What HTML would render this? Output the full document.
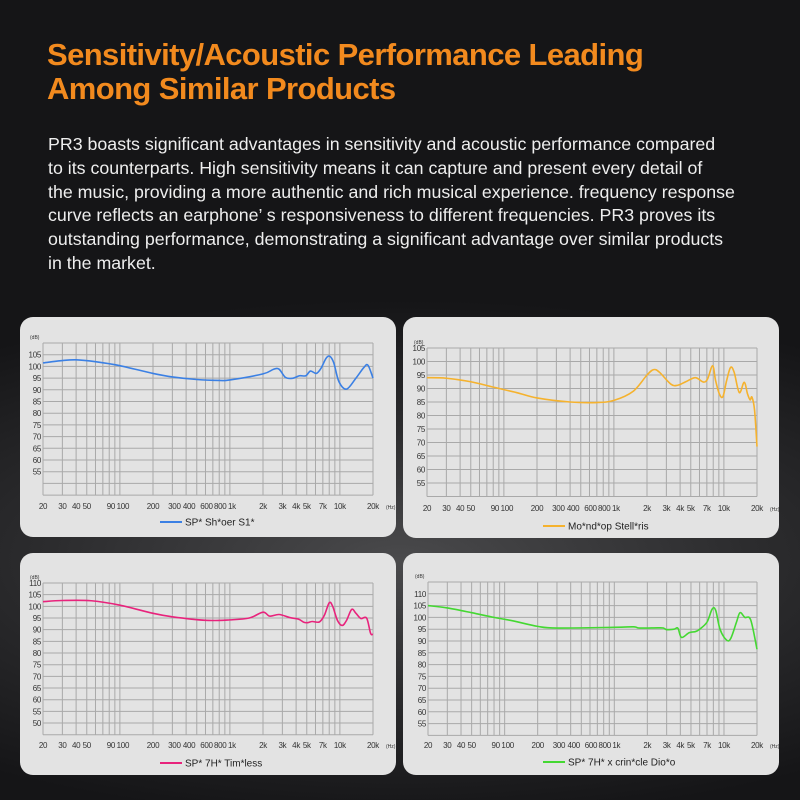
<!DOCTYPE html>
<html><head><meta charset="utf-8"><style>
html,body{margin:0;padding:0}
body{width:800px;height:800px;overflow:hidden;position:relative;
background:radial-gradient(ellipse 700px 260px at 400px 560px,#4a4a4c 0%,#2c2c2e 50%,#151517 100%),#111;
font-family:"Liberation Sans",sans-serif}
.title{position:absolute;left:47px;top:38px;color:#f28a1e;font-weight:bold;font-size:31px;line-height:34px;letter-spacing:-0.6px}
.body{position:absolute;left:48px;top:133px;width:740px;color:#eee;font-size:17.8px;line-height:23.8px;letter-spacing:0px}
svg{position:absolute;left:0;top:0}
</style></head><body>
<div class="title">Sensitivity/Acoustic Performance Leading<br>Among Similar Products</div>
<div class="body">PR3 boasts significant advantages in sensitivity and acoustic performance compared<br>to its counterparts. High sensitivity means it can capture and present every detail of<br>the music, providing a more authentic and rich musical experience. frequency response<br>curve reflects an earphone’ s responsiveness to different frequencies. PR3 proves its<br>outstanding performance, demonstrating a significant advantage over similar products<br>in the market.</div>
<svg id="s" width="800" height="800" xmlns="http://www.w3.org/2000/svg"></svg>
<script>
const S=document.getElementById('s');let h='';
const freqs=[20,30,40,50,60,70,80,90,100,200,300,400,500,600,700,800,900,1000,2000,3000,4000,5000,6000,7000,8000,9000,10000,20000];
const xl=[[20,'20',0],[30,'30',0],[40,'40',0],[50,'50',0],[90,'90',-4],[100,'100',3],[200,'200',0],[300,'300',2],[400,'400',3],[600,'600',1],[800,'800',1],[1000,'1k',2],[2000,'2k',0],[3000,'3k',0],[4000,'4k',0],[5000,'5k',0],[7000,'7k',0],[10000,'10k',0],[20000,'20k',0]];
function chart(c){
 const {px,py,pw,ph,x0,x1,yTop,dbTop,dbBot,step,col,name,pts,legY,legX,xlY}=c;
 h+=`<rect x="${px}" y="${py}" width="${pw}" height="${ph}" rx="13" fill="#e3e3e3"/>`;
 const X=f=>x0+(x1-x0)*Math.log10(f/20)/3;
 const Y=d=>yTop+(dbTop-d)/5*step;
 const yb=Y(dbBot);
 for(const f of freqs){h+=`<line x1="${X(f)}" y1="${yTop}" x2="${X(f)}" y2="${yb}" stroke="#a9a9a9" stroke-width="1"/>`}
 for(let d=dbTop;d>=dbBot;d-=5){h+=`<line x1="${x0}" y1="${Y(d)}" x2="${x1}" y2="${Y(d)}" stroke="#a9a9a9" stroke-width="1"/>`}
 for(const d of c.labels){h+=`<text x="${x0-2}" y="${Y(d)+3}" font-size="8" text-anchor="end" fill="#333" letter-spacing="-0.3">${d}</text>`}
 h+=`<text x="${x0-13}" y="${yTop-4}" font-size="5" fill="#333">(dB)</text>`;
 for(const [f,t,o] of xl){h+=`<text x="${X(f)+o}" y="${xlY}" font-size="8" text-anchor="middle" fill="#333" letter-spacing="-0.3">${t}</text>`}
 h+=`<text x="${x1+13}" y="${xlY}" font-size="5" fill="#333">(Hz)</text>`;
 const P=pts.map(([f,d])=>[X(f),Y(d)]);
 let s=`M${P[0][0]},${P[0][1]}`;
 for(let i=0;i<P.length-1;i++){const p0=P[Math.max(0,i-1)],p1=P[i],p2=P[i+1],p3=P[Math.min(P.length-1,i+2)];
  s+=`C${p1[0]+(p2[0]-p0[0])/6},${p1[1]+(p2[1]-p0[1])/6} ${p2[0]-(p3[0]-p1[0])/6},${p2[1]-(p3[1]-p1[1])/6} ${p2[0]},${p2[1]}`}
 h+=`<path d="${s}" fill="none" stroke="${col}" stroke-width="1.6"/>`;
 h+=`<line x1="${legX}" y1="${legY}" x2="${legX+22}" y2="${legY}" stroke="${col}" stroke-width="2"/>`;
 h+=`<text x="${legX+25}" y="${legY+3.5}" font-size="10" fill="#222">${name}</text>`;
}
chart({px:20,py:317,pw:376,ph:220,x0:43,x1:373,yTop:343,dbTop:110,dbBot:45,step:11.7,col:'#3b80e4',name:'SP* Sh*oer S1*',
 labels:[105,100,95,90,85,80,75,70,65,60,55],legX:160,legY:522,xlY:509,
 pts:[[20,101.5],[30,102.5],[40,102.8],[60,102],[100,100.3],[200,97],[300,95.5],[500,94.4],[800,94],[1000,94.2],[2000,96.8],[2500,98.8],[2800,98.8],[3200,95.3],[3700,94.9],[4300,96],[4900,96],[5400,98],[6100,97],[6700,99],[7500,103.5],[8100,104.3],[8800,101.5],[9800,93.5],[11500,90.3],[14000,95],[16500,99.5],[18000,100.5],[20000,95]]});
chart({px:403,py:317,pw:376,ph:221,x0:427,x1:757,yTop:348,dbTop:105,dbBot:50,step:13.5,col:'#f5b22e',name:'Mo*nd*op Stell*ris',
 labels:[105,100,95,90,85,80,75,70,65,60,55],legX:543,legY:526,xlY:511,
 pts:[[20,94],[30,93.8],[50,92.5],[80,90.5],[130,88.5],[200,86.5],[400,85],[700,84.8],[1000,85.6],[1500,89],[2000,95],[2300,97],[2600,96],[3300,91.6],[3800,91.2],[4500,92.5],[5500,94],[6500,92.4],[7100,93.5],[7900,98.4],[8400,93],[9100,88],[9800,87],[10600,93],[11500,97.8],[12400,96],[13800,88.5],[15300,92.3],[16400,88],[17300,85.8],[18000,86.8],[19000,82],[20000,68.5]]});
chart({px:20,py:553,pw:376,ph:222,x0:43,x1:373,yTop:583,dbTop:110,dbBot:45,step:11.67,col:'#e8237c',name:'SP* 7H* Tim*less',
 labels:[110,105,100,95,90,85,80,75,70,65,60,55,50],legX:160,legY:763,xlY:748,
 pts:[[20,102],[30,102.5],[55,102.4],[100,100.5],[200,97],[300,95.5],[600,94],[1000,94.2],[1500,95],[2000,97.5],[2300,95.8],[2800,96.5],[3500,95.2],[4200,94.5],[4700,93.2],[5100,93],[5600,93.5],[6500,93.3],[7200,96],[8000,101.5],[8600,100],[9500,94],[10500,91.8],[11500,94],[12800,98.7],[14000,97],[15500,94.8],[17500,95],[19000,88.5],[20000,88]]});
chart({px:403,py:553,pw:376,ph:222,x0:428,x1:757,yTop:582,dbTop:115,dbBot:50,step:11.8,col:'#44d832',name:'SP* 7H* x crin*cle Dio*o',
 labels:[110,105,100,95,90,85,80,75,70,65,60,55],legX:543,legY:762,xlY:748,
 pts:[[20,105],[30,104],[50,102],[80,100],[120,98.5],[200,96.2],[300,95.5],[1000,95.8],[1500,96],[1700,95.5],[2500,95.6],[2800,95.5],[3000,94.8],[3500,95],[3800,95.4],[4100,91.5],[4800,93.5],[5500,94],[6000,95],[7000,98],[7800,103.5],[8400,103],[9200,95],[10500,90.5],[11500,91],[13000,98],[14000,102],[15500,100],[17500,99],[20000,86.5]]});
S.innerHTML=h;
</script>
</body></html>
